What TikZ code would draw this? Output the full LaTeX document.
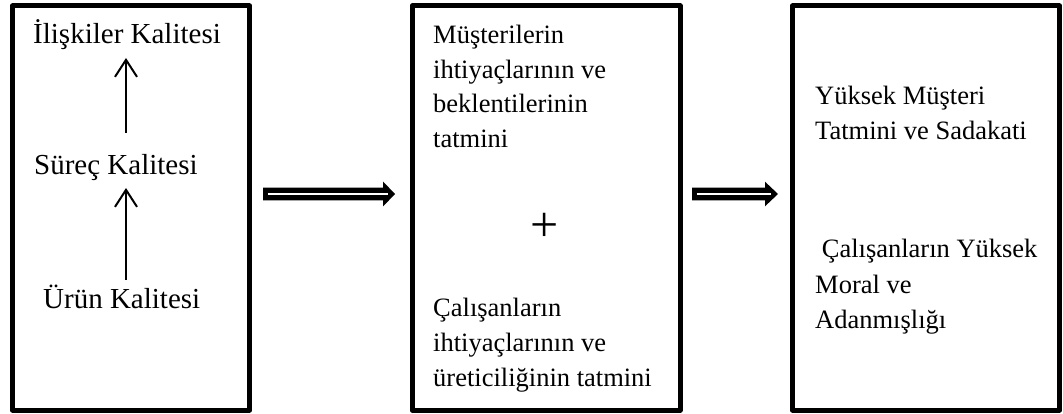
\documentclass[tikz,border=0pt]{standalone}
\usepackage{fontspec}
\setmainfont{Liberation Serif}
\usetikzlibrary{arrows.meta,calc}
\tikzset{
  box/.style={draw=black, line width=5pt, line join=round, rectangle, inner sep=0pt, outer sep=0pt, fill=none},
  txt/.style={anchor=base west, inner sep=0pt, font=\fontsize{26.5}{30}\selectfont},
  bigtxt/.style={txt, font=\fontsize{29}{33}\selectfont},
  plussign/.style={inner sep=0pt, font=\fontsize{50}{50}\selectfont},
  varrow/.style={line width=2pt, -{Straight Barb[length=17pt,width=22pt,line width=2pt]}},
  fatarrow/.style={fill=black},
  fatinner/.style={draw=white, line width=2.2pt}
}
\begin{document}
\begin{tikzpicture}[x=1pt,y=-1pt]
\useasboundingbox (0,0) rectangle (1063,414);
\fill[white] (0,0) rectangle (1063,414);
% boxes
\node[box, minimum width=237pt, minimum height=404pt] (b1) at (131,208) {};
\node[box, minimum width=268pt, minimum height=404pt] (b2) at (546,208) {};
\node[box, minimum width=267pt, minimum height=404pt] (b3) at (926,208) {};
% box 1 texts
\node[bigtxt] (t1a) at (33,44) {İlişkiler Kalitesi};
\node[bigtxt] (t1b) at (34,175) {Süreç Kalitesi};
\node[bigtxt] (t1c) at (43,308) {Ürün Kalitesi};
\coordinate (v1s) at (126,280);
\coordinate (v1e) at (126,188);
\coordinate (v2s) at (126,133);
\coordinate (v2e) at (126,58);
\draw[varrow] (v1s) -- (v1e);
\draw[varrow] (v2s) -- (v2e);
% box 2 texts
\node[txt] (t2a) at (433,44) {Müşterilerin};
\node[txt] (t2b) at (433,78.5) {ihtiyaçlarının ve};
\node[txt] (t2c) at (433,113) {beklentilerinin};
\node[txt] (t2d) at (433,148) {tatmini};
\node[plussign] (plus) at (545,227) {+};
\node[txt] (t2e) at (433,316) {Çalışanların};
\node[txt] (t2f) at (433,351) {ihtiyaçlarının ve};
\node[txt] (t2g) at (433,386.5) {üreticiliğinin tatmini};
% box 3 texts
\node[txt] (t3a) at (815,105) {Yüksek Müşteri};
\node[txt] (t3b) at (815,140) {Tatmini ve Sadakati};
\node[txt] (t3c) at (815,258) {\ Çalışanların Yüksek};
\node[txt] (t3d) at (815,293) {Moral ve};
\node[txt] (t3e) at (815,328) {Adanmışlığı};
% fat arrows
\coordinate (a1s) at ($(b1.east)+(13.5,-14)$);
\coordinate (a1e) at ($(b2.west)+(-17,-14)$);
\fill[fatarrow] ($(a1s)+(0,-6.3)$) -- ($(a1e)+(-12,-6.3)$) -- ($(a1e)+(-12,-12.5)$) -- (a1e)
  -- ($(a1e)+(-12,12.5)$) -- ($(a1e)+(-12,6.3)$) -- ($(a1s)+(0,6.3)$) -- cycle;
\draw[fatinner] ($(a1s)+(4.5,0)$) -- ($(a1e)+(-7,0)$);
\coordinate (a2s) at ($(b2.east)+(12,-14)$);
\coordinate (a2e) at ($(b3.west)+(-14.5,-14)$);
\fill[fatarrow] ($(a2s)+(0,-6.3)$) -- ($(a2e)+(-13,-6.3)$) -- ($(a2e)+(-13,-12.3)$) -- (a2e)
  -- ($(a2e)+(-13,12.3)$) -- ($(a2e)+(-13,6.3)$) -- ($(a2s)+(0,6.3)$) -- cycle;
\draw[fatinner] ($(a2s)+(4.5,0)$) -- ($(a2e)+(-7,0)$);
\end{tikzpicture}
\end{document}
